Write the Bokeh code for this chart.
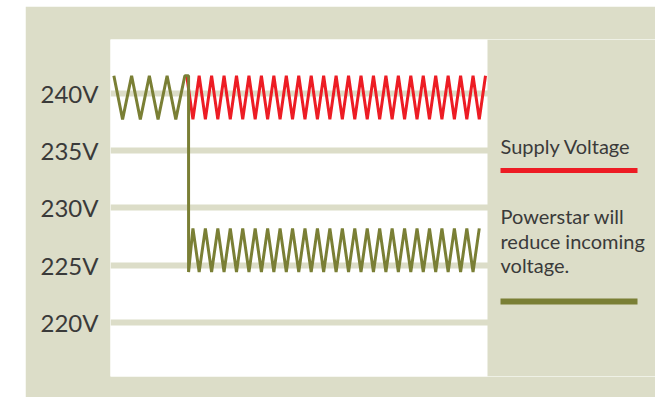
from bokeh.plotting import figure
from bokeh.models import Range1d, FixedTicker, BoxAnnotation
from bokeh.core.properties import value
from bokeh.embed import file_html
from bokeh.resources import INLINE

# ---------------- data ----------------
y_ticks = [220, 225, 230, 235, 240]
y_tick_labels = ["220V", "225V", "230V", "235V", "240V"]

# Supply voltage (red zigzag)
supply_x = [0, 1, 2, 3, 4, 5, 6, 7, 8, 9, 10, 11, 12, 13, 14, 15, 16, 17, 18, 19,
            20, 21, 22, 23, 24, 25, 26, 27, 28, 29, 30, 31, 32, 33, 34, 35, 36, 37,
            38, 39, 40, 41, 42, 43, 44, 45, 46, 47, 48]
supply_y = [241.5, 237.7, 241.5, 237.7, 241.5, 237.7, 241.5, 237.7, 241.5, 237.7,
            241.5, 237.7, 241.5, 237.7, 241.5, 237.7, 241.5, 237.7, 241.5, 237.7,
            241.5, 237.7, 241.5, 237.7, 241.5, 237.7, 241.5, 237.7, 241.5, 237.7,
            241.5, 237.7, 241.5, 237.7, 241.5, 237.7, 241.5, 237.7, 241.5, 237.7,
            241.5, 237.7, 241.5, 237.7, 241.5, 237.7, 241.5, 237.7, 241.5]

# Powerstar (green zigzag, drops to the lower band)
powerstar_x = [-11.7, -10.3, -8.85, -7.45, -6.0, -4.6, -3.15, -1.75, -0.3, 0.3, 0.3,
               1, 2, 3, 4, 5, 6, 7, 8, 9, 10,
               11, 12, 13, 14, 15, 16, 17, 18, 19, 20,
               21, 22, 23, 24, 25, 26, 27, 28, 29, 30,
               31, 32, 33, 34, 35, 36, 37, 38, 39, 40,
               41, 42, 43, 44, 45, 46, 47]
powerstar_y = [241.5, 237.7, 241.5, 237.7, 241.5, 237.7, 241.5, 237.7, 241.5, 241.5, 224.4,
               228.2, 224.4, 228.2, 224.4, 228.2, 224.4, 228.2, 224.4, 228.2, 224.4,
               228.2, 224.4, 228.2, 224.4, 228.2, 224.4, 228.2, 224.4, 228.2, 224.4,
               228.2, 224.4, 228.2, 224.4, 228.2, 224.4, 228.2, 224.4, 228.2, 224.4,
               228.2, 224.4, 228.2, 224.4, 228.2, 224.4, 228.2, 224.4, 228.2, 224.4,
               228.2, 224.4, 228.2, 224.4, 228.2, 224.4, 228.2]

supply_label = "Supply Voltage"
powerstar_label_lines = ["Powerstar will", "reduce incoming", "voltage."]

# ---------------- style ----------------
BEIGE = "#DCDDC8"
RED = "#ED1C24"
GREEN = "#7A7F35"
TEXT = "#3A3A3A"
FONT = "Lato"

# pixel <-> data helpers (page pixel geometry)
PX_X0 = 186.2
PX_PER_X = 6.225
PX_Y240 = 92.5
PX_PER_V = 11.475


def dx(px):
    return (px - PX_X0) / PX_PER_X


def dy(py):
    return 240 - (py - PX_Y240) / PX_PER_V


p = figure(width=630, height=391, margin=(6, 0, 0, 25),
           x_range=Range1d(dx(110), dx(655)), y_range=Range1d(dy(376), dy(39)),
           output_backend="svg", toolbar_location=None,
           min_border_left=85, min_border_right=0, min_border_top=33, min_border_bottom=21)
p.border_fill_color = BEIGE
p.background_fill_color = "white"
p.outline_line_color = None
p.xaxis.visible = False
p.xgrid.visible = False

ya = p.yaxis[0]
ya.ticker = FixedTicker(ticks=y_ticks)
ya.major_label_overrides = {t: lab for t, lab in zip(y_ticks, y_tick_labels)}
ya.axis_line_color = None
ya.major_tick_line_color = None
ya.minor_tick_line_color = None
ya.major_tick_out = 0
ya.major_tick_in = 0
ya.major_label_standoff = 12
ya.major_label_text_font = FONT
ya.major_label_text_font_size = "24px"
ya.major_label_text_color = TEXT

p.ygrid.ticker = FixedTicker(ticks=y_ticks)
p.ygrid.grid_line_color = BEIGE
p.ygrid.grid_line_width = 6
p.ygrid.grid_line_alpha = 1

# beige legend region to the right of the white plot area
p.add_layout(BoxAnnotation(left=dx(487), fill_color=BEIGE, fill_alpha=1,
                           line_color=None, level="underlay"))

p.line(supply_x, supply_y, line_color=RED, line_width=3)
p.line(powerstar_x, powerstar_y, line_color=GREEN, line_width=3)

# legend
p.text(x=[dx(500)], y=[dy(145)], text=[supply_label], text_font=value(FONT),
       text_font_size="20px", text_color=TEXT, text_baseline="alphabetic", text_align="left")
p.segment(x0=[dx(500)], y0=[dy(170)], x1=[dx(637)], y1=[dy(170)],
          line_color=RED, line_width=5, line_cap="butt")

baselines = [215.5, 240.0, 264.5]
p.text(x=[dx(500)] * 3, y=[dy(b) for b in baselines], text=powerstar_label_lines,
       text_font=value(FONT), text_font_size="20px", text_color=TEXT,
       text_baseline="alphabetic", text_align="left")
p.segment(x0=[dx(500)], y0=[dy(301)], x1=[dx(637)], y1=[dy(301)],
          line_color=GREEN, line_width=6, line_cap="butt")

open("out.html", "w").write(file_html(p, INLINE))
